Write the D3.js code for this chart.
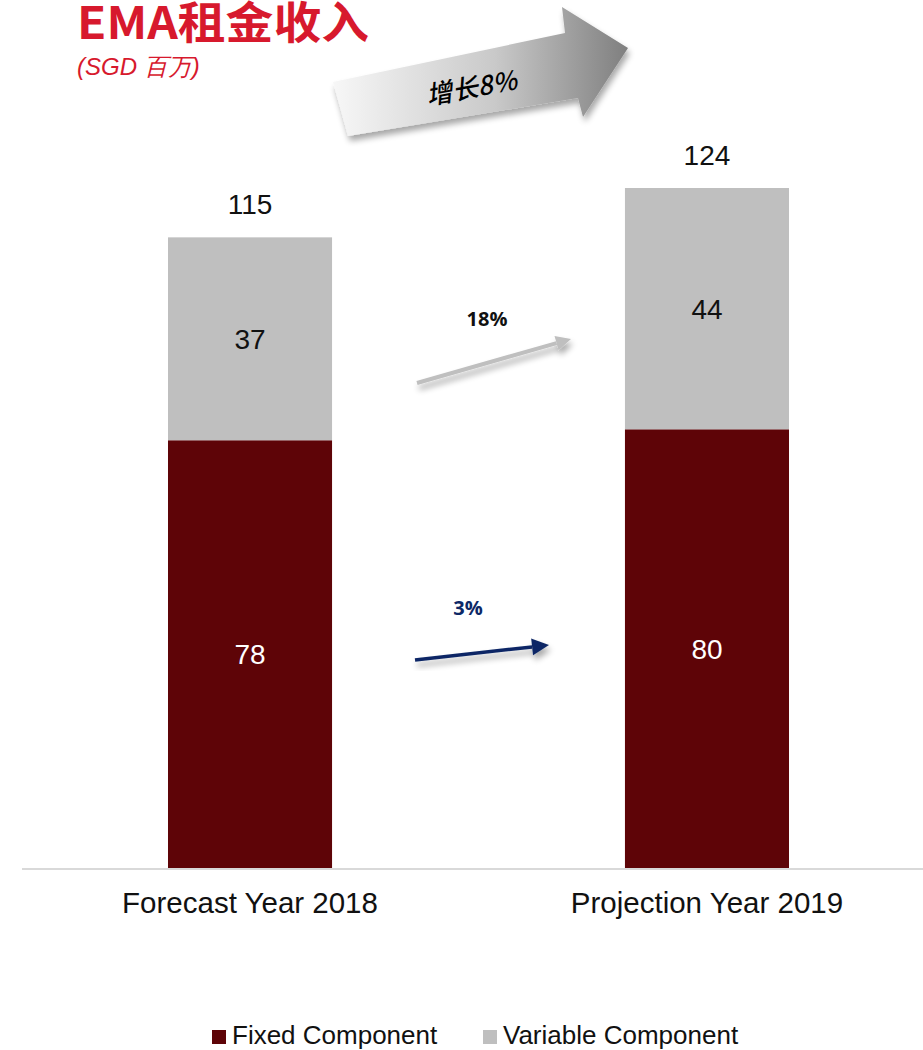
<!DOCTYPE html>
<html>
<head>
<meta charset="utf-8">
<script src="https://cdn.jsdelivr.net/npm/d3@7"></script>
<style>
  html, body { margin: 0; padding: 0; background: #fff; }
  svg { display: block; }
</style>
</head>
<body>
<svg id="chart" width="923" height="1050"></svg>
<script>
// EMA rental income, SGD millions
const categories = ["Forecast Year 2018", "Projection Year 2019"];
const fixedValues = [78, 80];
const variableValues = [37, 44];
const seriesNames = ["Fixed Component", "Variable Component"];
const totalGrowthLabel = "增长8%";
const variableGrowthLabel = "18%";
const fixedGrowthLabel = "3%";

const colors = { fixed: "#5E0407", variable: "#BFBFBF" };
const red = "#D7192D";
const navy = "#0D2866";
const font = "'Liberation Sans', Arial, sans-serif";

const svg = d3.select("#chart");
const defs = svg.append("defs");

const baseY = 868;
const x = d3.scaleBand().domain(categories).range([22, 935]).paddingInner(0.641).paddingOuter(0.3195);
const y = d3.scaleLinear().domain([0, 124]).range([baseY, 188]);

const rows = categories.map((c, i) => ({
  cat: c, fixed: fixedValues[i], variable: variableValues[i], total: fixedValues[i] + variableValues[i]
}));

// Title
svg.append("text").attr("x", 77).attr("y", 39)
  .attr("font-family", "'Noto Sans CJK SC', 'Noto Sans', sans-serif")
  .attr("font-weight", 700).attr("font-size", 44).attr("fill", red)
  .attr("textLength", 292).attr("lengthAdjust", "spacingAndGlyphs")
  .text("EMA租金收入");
svg.append("text").attr("x", 77).attr("y", 75)
  .attr("font-family", font).attr("font-style", "italic").attr("font-size", 24).attr("fill", red)
  .text("(SGD 百万)");

// Filters & gradients
const shadow = defs.append("filter").attr("id", "shadow").attr("x", "-20%").attr("y", "-30%").attr("width", "150%").attr("height", "180%");
shadow.append("feGaussianBlur").attr("in", "SourceAlpha").attr("stdDeviation", 3);
shadow.append("feOffset").attr("dx", 2).attr("dy", 5).attr("result", "ob");
shadow.append("feComponentTransfer").append("feFuncA").attr("type", "linear").attr("slope", 0.35);
const m = shadow.append("feMerge");
m.append("feMergeNode");
m.append("feMergeNode").attr("in", "SourceGraphic");

const grad = defs.append("linearGradient").attr("id", "bigArrowGrad")
  .attr("x1", "0%").attr("y1", "0%").attr("x2", "100%").attr("y2", "0%");
grad.append("stop").attr("offset", "0%").attr("stop-color", "#F7F7F7");
grad.append("stop").attr("offset", "55%").attr("stop-color", "#C9C9C9");
grad.append("stop").attr("offset", "100%").attr("stop-color", "#7F7F7F");

// Big growth arrow
const bigArrow = [[333, 82], [565, 33], [562, 7], [628, 48], [583, 117], [578, 98], [348, 136]];
svg.append("path")
  .attr("d", d3.line()(bigArrow) + "Z")
  .attr("fill", "url(#bigArrowGrad)")
  .attr("filter", "url(#shadow)");
svg.append("text")
  .attr("transform", "translate(473,97) rotate(-10)")
  .attr("text-anchor", "middle")
  .attr("font-family", "'Noto Sans CJK SC', sans-serif")
  .attr("font-style", "italic").attr("font-weight", 500).attr("font-size", 26).attr("fill", "#000")
  .text(totalGrowthLabel);

// Baseline
svg.append("line").attr("x1", 22).attr("x2", 923).attr("y1", baseY + 1).attr("y2", baseY + 1)
  .attr("stroke", "#D9D9D9").attr("stroke-width", 2);

// Stacked bars
const bars = svg.append("g");
bars.selectAll("rect.fixed").data(rows).join("rect")
  .attr("class", "fixed")
  .attr("x", d => x(d.cat)).attr("width", x.bandwidth())
  .attr("y", d => y(d.fixed)).attr("height", d => y(0) - y(d.fixed))
  .attr("fill", colors.fixed);
bars.selectAll("rect.variable").data(rows).join("rect")
  .attr("class", "variable")
  .attr("x", d => x(d.cat)).attr("width", x.bandwidth())
  .attr("y", d => y(d.total)).attr("height", d => y(d.fixed) - y(d.total))
  .attr("fill", colors.variable);

// Value labels
const cx = d => x(d.cat) + x.bandwidth() / 2;
const lbl = svg.append("g").attr("font-family", font).attr("font-size", 28).attr("text-anchor", "middle");
lbl.selectAll("text.f").data(rows).join("text").attr("class", "f")
  .attr("x", cx).attr("y", d => (y(0) + y(d.fixed)) / 2).attr("dy", "0.36em")
  .attr("fill", "#fff").text(d => d.fixed);
lbl.selectAll("text.v").data(rows).join("text").attr("class", "v")
  .attr("x", cx).attr("y", d => (y(d.fixed) + y(d.total)) / 2).attr("dy", "0.36em")
  .attr("fill", "#111").text(d => d.variable);
lbl.selectAll("text.t").data(rows).join("text").attr("class", "t")
  .attr("x", cx).attr("y", d => y(d.total) - 33).attr("dy", "0.36em")
  .attr("fill", "#111").text(d => d.total);

// Category labels
svg.append("g").selectAll("text").data(categories).join("text")
  .attr("x", c => x(c) + x.bandwidth() / 2).attr("y", 913)
  .attr("text-anchor", "middle").attr("font-family", font).attr("font-size", 29.5).attr("fill", "#111")
  .text(c => c);

// Segment growth arrows
function growthArrow(x1, y1, x2, y2, color, width, head) {
  const ang = Math.atan2(y2 - y1, x2 - x1);
  const g = svg.append("g").attr("filter", "url(#shadow)");
  const bx = x2 - head * Math.cos(ang), by = y2 - head * Math.sin(ang);
  g.append("line").attr("x1", x1).attr("y1", y1).attr("x2", bx).attr("y2", by)
    .attr("stroke", color).attr("stroke-width", width);
  const px = Math.sin(ang) * head * 0.5, py = -Math.cos(ang) * head * 0.5;
  g.append("path").attr("d", d3.line()([[x2, y2], [bx + px, by + py], [bx - px, by - py]]) + "Z")
    .attr("fill", color);
}
growthArrow(417, 383, 571, 339, "#BFBFBF", 4, 15);
growthArrow(415, 660, 549, 645, navy, 3.5, 17);

svg.append("text").attr("x", 487).attr("y", 326).attr("text-anchor", "middle")
  .attr("font-family", "'Open Sans', 'Noto Sans', sans-serif").attr("font-weight", 700)
  .attr("font-size", 20).attr("fill", "#111").text(variableGrowthLabel);
svg.append("text").attr("x", 468).attr("y", 615).attr("text-anchor", "middle")
  .attr("font-family", "'Open Sans', 'Noto Sans', sans-serif").attr("font-weight", 700)
  .attr("font-size", 20).attr("fill", navy).text(fixedGrowthLabel);

// Legend
const legendItems = [
  { name: seriesNames[0], color: colors.fixed, x: 212 },
  { name: seriesNames[1], color: colors.variable, x: 483 }
];
const lg = svg.append("g").selectAll("g").data(legendItems).join("g")
  .attr("transform", d => `translate(${d.x},1030)`);
lg.append("rect").attr("width", 14).attr("height", 14).attr("fill", d => d.color);
lg.append("text").attr("x", 20).attr("y", 14).attr("font-family", font).attr("font-size", 26)
  .attr("fill", "#111").text(d => d.name);
</script>
</body>
</html>
